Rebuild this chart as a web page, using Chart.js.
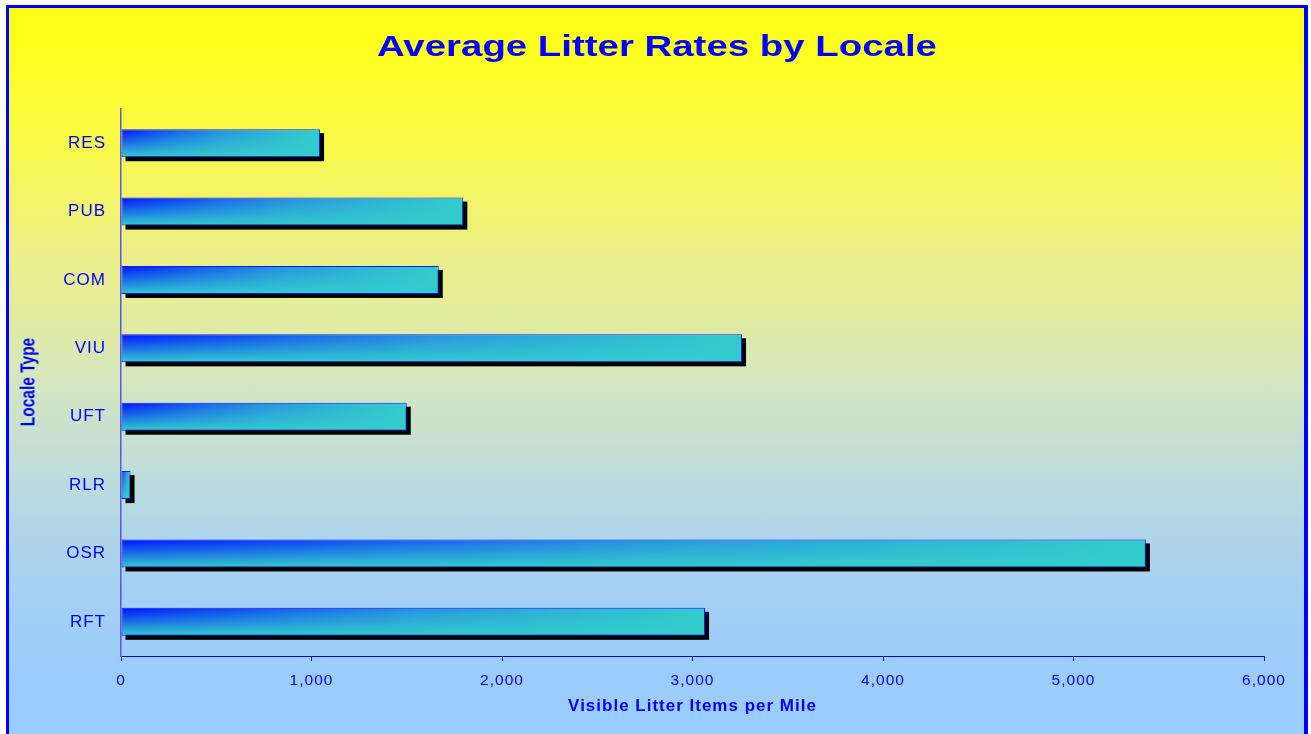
<!DOCTYPE html>
<html>
<head>
<meta charset="utf-8">
<title>Average Litter Rates by Locale</title>
<script src="https://cdn.jsdelivr.net/npm/chart.js@4.4.1/dist/chart.umd.min.js"></script>
<style>
  html, body { margin: 0; padding: 0; background: #ffffff; width: 1311px; height: 734px; overflow: hidden; }
  #frame {
    position: absolute; left: 6px; top: 5px; width: 1295px; height: 740px;
    border: 3px solid #0000ff; border-right-width: 4px; border-bottom: none;
    background: linear-gradient(to bottom,
      #ffff14 0px, #ffff22 50px, #f8f850 150px, #eef080 230px, #e2eca0 310px,
      #d3e6c0 375px, #bedcdc 470px, #b2d6e8 515px, #a4d0f4 590px, #9ccdfb 650px, #99ccff 720px);
  }
  #chart { position: absolute; left: 0; top: 0; }
  .heading {
    position: absolute; left: 0; top: 28px; width: 1314px; text-align: center;
    font: bold 30px/36px "Liberation Sans", Arial, sans-serif; color: #0000ff;
    transform: scaleX(1.28); white-space: nowrap;
  }
  .ytitle {
    position: absolute; left: -72px; top: 372px; width: 200px; height: 20px; text-align: center;
    font: bold 15.5px/20px "Liberation Sans", Arial, sans-serif; color: #0000ff;
    transform: rotate(-90deg) scaleY(1.25); white-space: nowrap;
  }
</style>
</head>
<body>
<div id="frame"></div>
<canvas id="chart" width="1311" height="734"></canvas>
<div class="heading">Average Litter Rates by Locale</div>
<div class="ytitle">Locale Type</div>
<script>
// Locale types, listed bottom to top as on the axis
const categories = ['RFT', 'OSR', 'RLR', 'UFT', 'VIU', 'COM', 'PUB', 'RES'];
// Average visible litter items per mile for each locale
const litterPerMile = [3066, 5380, 50, 1500, 3260, 1668, 1797, 1045];
// Value axis ticks
const xTicks = [0, 1000, 2000, 3000, 4000, 5000, 6000];

const FONT = '"Liberation Sans", Arial, sans-serif';
const BAR_PCT = 0.41;

// Bar fill: the top edge runs from deep blue to turquoise along the bar,
// and every column fades to turquoise towards the bottom edge.
function barFill(ctx) {
  const chart = ctx.chart;
  const xs = chart.scales.x, ys = chart.scales.y;
  if (ctx.type !== 'data' || !xs || !ys) return '#33cccc';
  const x0 = xs.getPixelForValue(0);
  const x1 = xs.getPixelForValue(ctx.raw);
  const yc = ys.getPixelForValue(ctx.dataIndex);
  const h = (ys.bottom - ys.top) / categories.length * BAR_PCT;
  if (![x0, x1, yc, h].every(Number.isFinite) || h <= 0) return '#33cccc';
  const w = Math.max(2, Math.ceil(x1 - x0) + 2);
  const hh = Math.ceil(h) + 2;
  const top = yc - h / 2;

  const tile = document.createElement('canvas');
  tile.width = w;
  tile.height = hh;
  const t = tile.getContext('2d');
  const along = t.createLinearGradient(0, 0, x1 - x0, 0);
  along.addColorStop(0, '#0010ff');
  along.addColorStop(0.25, '#1558f0');
  along.addColorStop(0.5, '#2890e0');
  along.addColorStop(0.8, '#30b8d4');
  along.addColorStop(1, '#33cccc');
  t.fillStyle = along;
  t.fillRect(0, 0, w, hh);
  const down = t.createLinearGradient(0, 0, 0, h);
  down.addColorStop(0, 'rgba(51,204,204,0)');
  down.addColorStop(1, 'rgba(51,204,204,1)');
  t.fillStyle = down;
  t.fillRect(0, 0, w, hh);

  const pattern = chart.ctx.createPattern(tile, 'no-repeat');
  pattern.setTransform(new DOMMatrix([1, 0, 0, 1, x0, top]));
  return pattern;
}

// Solid black shadow offset behind each bar
const dropShadow = {
  id: 'dropShadow',
  beforeDatasetsDraw(chart) {
    const c = chart.ctx;
    c.save();
    c.fillStyle = '#000000';
    chart.getDatasetMeta(0).data.forEach(el => {
      const { x, y, base, height } = el.getProps(['x', 'y', 'base', 'height'], true);
      c.fillRect(Math.min(x, base) + 4, y - height / 2 + 4, Math.abs(x - base), height);
    });
    c.restore();
  }
};

// Slightly wider letter spacing for axis text
const spacedText = {
  id: 'spacedText',
  beforeDraw(chart) { chart.ctx.letterSpacing = '1px'; }
};

new Chart(document.getElementById('chart'), {
  type: 'bar',
  data: {
    labels: categories,
    datasets: [{
      data: litterPerMile,
      backgroundColor: barFill,
      borderColor: '#0a1cff',
      borderWidth: 1,
      borderSkipped: false,
      barPercentage: BAR_PCT,
      categoryPercentage: 1
    }]
  },
  options: {
    indexAxis: 'y',
    responsive: false,
    animation: false,
    devicePixelRatio: 1,
    layout: { padding: { left: 0, right: 47, top: 109, bottom: 0 } },
    plugins: {
      legend: { display: false },
      tooltip: { enabled: false },
      title: { display: false }
    },
    scales: {
      x: {
        min: xTicks[0],
        max: xTicks[xTicks.length - 1],
        afterBuildTicks(scale) { scale.ticks = xTicks.map(v => ({ value: v })); },
        ticks: {
          color: '#0000ff',
          font: { family: FONT, size: 15.5 },
          padding: 10,
          maxRotation: 0,
          callback: v => Number(v).toLocaleString('en-US')
        },
        grid: { drawOnChartArea: false, drawTicks: true, tickLength: 5, color: '#0000ff', lineWidth: 1 },
        border: { color: '#0000ff', width: 1 },
        title: {
          display: true,
          text: 'Visible Litter Items per Mile',
          color: '#0000ff',
          font: { family: FONT, size: 17, weight: 'bold' },
          padding: { top: 0, bottom: 17 }
        },
        afterFit(scale) { scale.height = 78; }
      },
      y: {
        reverse: true,
        ticks: { color: '#0000ff', font: { family: FONT, size: 17 }, padding: 7 },
        grid: { display: false },
        border: { color: '#5858e0', width: 1.5 },
        afterFit(scale) { scale.width = 121; }
      }
    }
  },
  plugins: [dropShadow, spacedText]
});
</script>
</body>
</html>
